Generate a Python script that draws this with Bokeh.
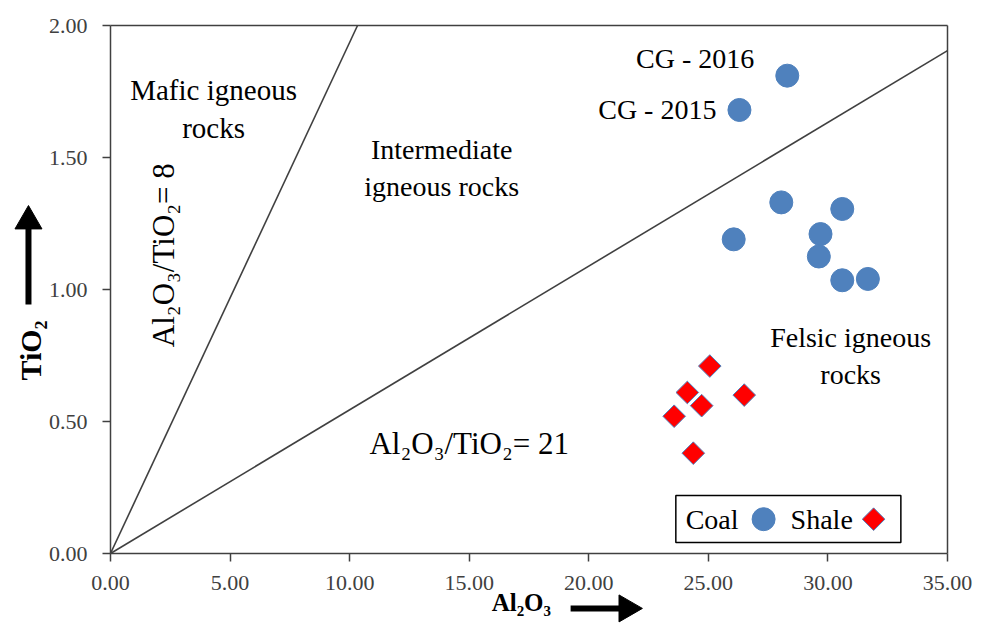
import numpy as np
from bokeh.plotting import figure
from bokeh.models import Label, FixedTicker, NumeralTickFormatter, ColumnDataSource, LinearAxis
from bokeh.core.properties import value
from bokeh.embed import file_html
from bokeh.resources import INLINE

# Coal samples (Al2O3, TiO2 wt%)
coal_al2o3 = [28.3, 26.3, 28.05, 30.6, 26.06, 29.69, 29.62, 30.6, 31.67]
coal_tio2 = [1.81, 1.68, 1.33, 1.305, 1.19, 1.21, 1.125, 1.035, 1.04]
coal_names = ["CG - 2016", "CG - 2015", "", "", "", "", "", "", ""]

# Shale samples (Al2O3, TiO2 wt%)
shale_al2o3 = [25.06, 24.12, 24.72, 23.57, 26.5, 24.37]
shale_tio2 = [0.71, 0.61, 0.56, 0.52, 0.60, 0.38]

# Boundary lines between igneous source fields (from origin to end point)
boundary_labels = ["Al\u2082O\u2083/TiO\u2082= 8", "Al\u2082O\u2083/TiO\u2082= 21"]
boundary_end_al2o3 = [10.33, 35.0]
boundary_end_tio2 = [2.0, 1.905]

x_ticks = [0, 5, 10, 15, 20, 25, 30, 35]
y_ticks = [0.0, 0.5, 1.0, 1.5, 2.0]
X_MAX, Y_MAX = 35, 2

SERIF = "Liberation Serif"
AXIS_GREY = "#404040"
BLUE = "#4F81BD"
RED = "#FF0000"

# The frame spans the whole canvas; the axes sit at fixed data locations inside it,
# which leaves room for the axis titles and their arrows around the plot box.
W, H = 984, 624
LEFT, RIGHT, TOP, BOTTOM = 110, 947, 25, 553
ux = (RIGHT - LEFT) / X_MAX
uy = (BOTTOM - TOP) / Y_MAX
x_range = (-LEFT / ux, X_MAX + (W - RIGHT) / ux)
y_range = (-(H - BOTTOM) / uy, Y_MAX + TOP / uy)

p = figure(width=W, height=H, x_range=x_range, y_range=y_range,
           output_backend="svg", toolbar_location=None, title=None,
           min_border_left=0, min_border_right=0, min_border_top=0, min_border_bottom=0)
p.background_fill_color = "white"
p.border_fill_color = "white"
p.outline_line_color = None
p.grid.visible = False

p.xaxis.ticker = FixedTicker(ticks=x_ticks)
p.yaxis.ticker = FixedTicker(ticks=y_ticks)
p.xaxis.fixed_location = 0
p.yaxis.fixed_location = 0
p.xaxis.bounds = (0, X_MAX)
p.yaxis.bounds = (0, Y_MAX)
for ax in (p.xaxis[0], p.yaxis[0]):
    ax.formatter = NumeralTickFormatter(format="0.00")
    ax.axis_line_color = AXIS_GREY
    ax.axis_line_width = 1.5
    ax.major_tick_line_color = AXIS_GREY
    ax.major_tick_line_width = 1.5
    ax.major_tick_in = 0
    ax.major_tick_out = 8
    ax.minor_tick_line_color = None
    ax.major_label_text_font = SERIF
    ax.major_label_text_font_size = "22px"
    ax.major_label_text_color = AXIS_GREY
p.yaxis.major_label_standoff = 15
p.xaxis.major_label_standoff = 14

# Top and right edges of the plot box
top_edge = LinearAxis(fixed_location=Y_MAX, bounds=(0, X_MAX), ticker=FixedTicker(ticks=[]),
                      axis_line_color=AXIS_GREY, axis_line_width=1.5,
                      major_label_text_font_size="0px")
right_edge = LinearAxis(fixed_location=X_MAX, bounds=(0, Y_MAX), ticker=FixedTicker(ticks=[]),
                        axis_line_color=AXIS_GREY, axis_line_width=1.5,
                        major_label_text_font_size="0px")
p.add_layout(top_edge, "above")
p.add_layout(right_edge, "right")

# Field boundary lines
for xe, ye in zip(boundary_end_al2o3, boundary_end_tio2):
    p.line([0, xe], [0, ye], line_color=AXIS_GREY, line_width=1.6)

# Samples
p.scatter(coal_al2o3, coal_tio2, marker="circle", size=23,
          fill_color=BLUE, line_color=BLUE, line_width=1)
p.scatter(shale_al2o3, shale_tio2, marker="square", size=16, angle=np.pi / 4,
          fill_color=RED, line_color=BLUE, line_width=1)

# Sample names next to the two upper coal points
src = ColumnDataSource(dict(x=coal_al2o3[:2], y=coal_tio2[:2], t=coal_names[:2],
                            dx=[-33, -23], dy=[-17, 0]))
p.text(x="x", y="y", text="t", x_offset="dx", y_offset="dy", source=src,
       text_font=value(SERIF), text_font_size="28px", text_color="black",
       text_align="right", text_baseline="middle")

# Field names
def field_text(x, y, txt, size="28px", angle=0.0):
    p.add_layout(Label(x=x, y=y, text=txt, text_font=SERIF, text_font_size=size,
                       text_color="black", text_align="center", text_baseline="middle",
                       angle=angle, text_line_height=1.18))

field_text(4.31, 1.685, "Mafic igneous\nrocks", size="29px")
field_text(13.85, 1.46, "Intermediate\nigneous rocks")
field_text(30.95, 0.748, "Felsic igneous\nrocks")
field_text(2.22, 1.13, boundary_labels[0], size="31px", angle=np.pi / 2)
field_text(15.0, 0.417, boundary_labels[1], size="31px")

# Legend box with label-then-marker entries
p.quad(left=[23.64], right=[33.05], bottom=[0.042], top=[0.22],
       fill_color="white", line_color="black", line_width=1.5)
p.text(x=[24.05, 28.44], y=[0.13, 0.13], text=["Coal", "Shale"],
       text_font=value(SERIF), text_font_size="28px", text_color="black",
       text_align="left", text_baseline="middle")
p.scatter([27.31], [0.13], marker="circle", size=23, fill_color=BLUE, line_color=BLUE)
p.scatter([31.91], [0.13], marker="square", size=16, angle=np.pi / 4,
          fill_color=RED, line_color=BLUE, line_width=1)

# Axis titles with direction arrows
p.text(x=[-3.345], y=[0.769], text=["TiO\u2082"], angle=np.pi / 2,
       text_font=value(SERIF), text_font_size="30px", text_font_style="bold",
       text_color="black", text_align="center", text_baseline="middle")
p.segment(x0=[-3.43], y0=[0.943], x1=[-3.43], y1=[1.259], line_width=6, line_color="black")
p.scatter([-3.43], [1.259], marker="triangle", size=27, fill_color="black", line_color="black")

p.text(x=[17.18], y=[-0.186], text=["Al\u2082O\u2083"],
       text_font=value(SERIF), text_font_size="25px", text_font_style="bold",
       text_color="black", text_align="center", text_baseline="middle")
p.segment(x0=[19.24], y0=[-0.208], x1=[21.59], y1=[-0.208], line_width=6, line_color="black")
p.scatter([21.59], [-0.208], marker="triangle", size=27, angle=-np.pi / 2,
          fill_color="black", line_color="black")

open("out.html", "w").write(file_html(p, INLINE))
